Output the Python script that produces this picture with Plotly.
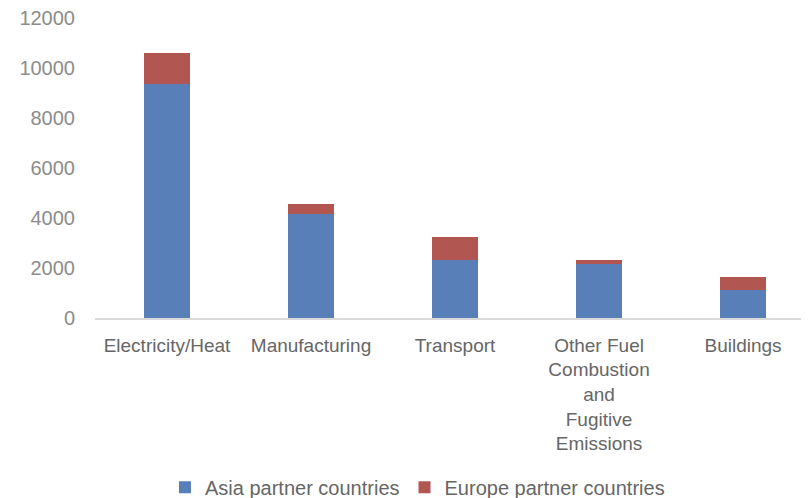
import plotly.graph_objects as go

categories = ["Electricity/Heat", "Manufacturing", "Transport",
              "Other Fuel<br>Combustion<br>and<br>Fugitive<br>Emissions", "Buildings"]
asia = [9350, 4180, 2330, 2160, 1120]
europe = [1250, 390, 930, 170, 530]
y_ticks = [0, 2000, 4000, 6000, 8000, 10000, 12000]
y_tick_labels = ["0", "2000", "4000", "6000", "8000", "10000", "12000"]

fig = go.Figure()
fig.add_trace(go.Bar(x=categories, y=asia, name="Asia partner countries",
                     marker=dict(color="#587fb8", line=dict(width=0))))
fig.add_trace(go.Bar(x=categories, y=europe, name="Europe partner countries",
                     marker=dict(color="#b15650", line=dict(width=0))))

fig.update_layout(
    width=801, height=490,
    barmode="stack", bargap=0.68,
    paper_bgcolor="white", plot_bgcolor="white",
    margin=dict(l=87, r=0, t=10, b=179.5, autoexpand=False),
    showlegend=True,
    legend=dict(orientation="h", x=0.098, xanchor="left", y=-0.564, yanchor="middle",
                font=dict(family="Liberation Sans, Arial", size=20, color="#666666"),
                itemwidth=30, traceorder="normal"),
    xaxis=dict(range=[-0.5, 4.458], showgrid=False, showline=True, linecolor="#d9d9d9", linewidth=1.5,
               ticks="", tickfont=dict(family="Liberation Sans, Arial", size=19, color="#666666"),
               ticklabelstandoff=9, tickangle=0, automargin=False),
    yaxis=dict(range=[0, 12000], tickvals=y_ticks, ticktext=y_tick_labels, showgrid=False,
               zeroline=False, showline=False, automargin=False, ticklabeloverflow="allow",
               ticks="", tickfont=dict(family="Liberation Sans, Arial", size=20, color="#8c8c8c"),
               ticklabelstandoff=19),
)

fig.write_html("out.html")
